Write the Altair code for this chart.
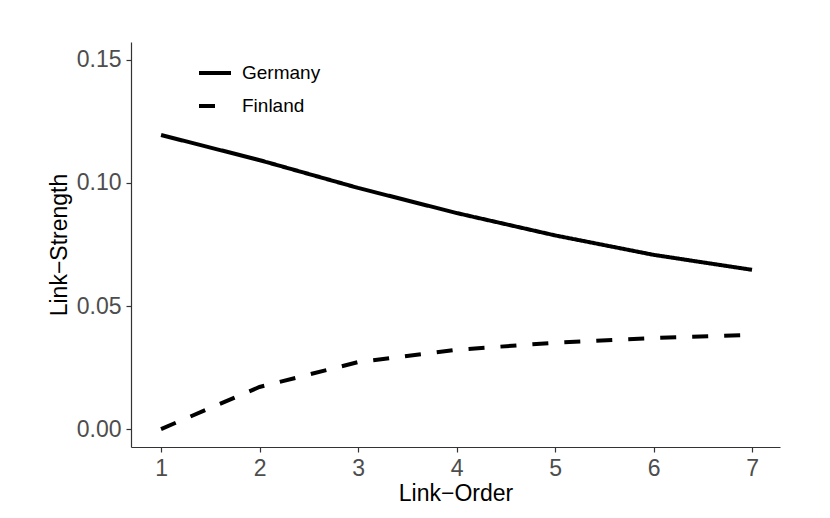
import altair as alt
import pandas as pd

link_order = [1, 2, 3, 4, 5, 6, 7]
germany = [0.1195, 0.1093, 0.0980, 0.0878, 0.0787, 0.0708, 0.0647]
finland = [0.0000, 0.0171, 0.0272, 0.0322, 0.0351, 0.0370, 0.0383]
countries = ["Germany", "Finland"]

rows = []
for c, vals in zip(countries, [germany, finland]):
    for x, v in zip(link_order, vals):
        rows.append({"order": x, "strength": v, "country": c})
df = pd.DataFrame(rows)

FONT = "Liberation Sans"

chart = alt.Chart(df).mark_line(color="black", strokeWidth=4, strokeCap="butt").encode(
    x=alt.X("order:Q", title="Link−Order",
            scale=alt.Scale(domain=[0.695, 7.284], nice=False, zero=False),
            axis=alt.Axis(values=link_order, format="d")),
    y=alt.Y("strength:Q", title="Link−Strength",
            scale=alt.Scale(domain=[-0.0073, 0.1573], nice=False, zero=False),
            axis=alt.Axis(values=[0, 0.05, 0.10, 0.15], format=".2f")),
    strokeDash=alt.StrokeDash("country:N",
        scale=alt.Scale(domain=countries, range=[[1, 0], [16, 16]]),
        legend=alt.Legend(title=None, orient="none", legendX=66, legendY=13,
                          symbolType="stroke", symbolSize=1024, symbolStrokeWidth=4,
                          symbolStrokeColor="black",
                          labelFontSize=19, labelFont=FONT, labelColor="black",
                          labelOffset=9, rowPadding=5)),
    detail="country:N",
).properties(
    width=649, height=405,
    autosize=alt.AutoSizeParams(type="none"),
    padding={"left": 123, "top": 34, "right": 42, "bottom": 63},
).configure_view(stroke=None).configure_axis(
    grid=False, domainColor="#333333", tickColor="#333333", domainWidth=1.2,
    tickWidth=1.2, tickSize=5, labelFont=FONT, labelFontSize=23, labelColor="#4D4D4D",
    titleFont=FONT, titleFontSize=23, titleColor="black", titleFontWeight="normal",
).configure_axisX(titlePadding=2, labelPadding=5).configure_axisY(titlePadding=5, labelPadding=5)

chart.save("out.html", embed_options={"renderer": "svg", "actions": False})
